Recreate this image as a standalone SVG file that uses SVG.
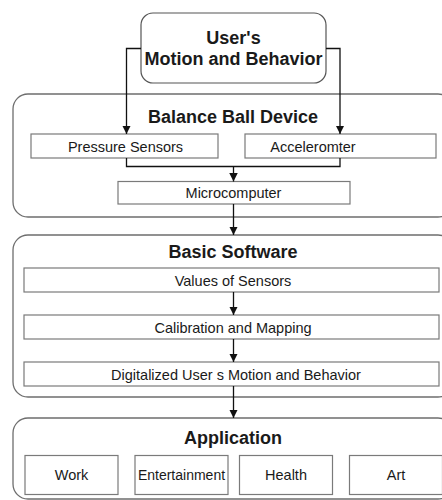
<svg xmlns="http://www.w3.org/2000/svg" width="442" height="500" viewBox="0 0 442 500">
<defs>
<marker id="arr" viewBox="0 0 10 10" refX="10" refY="5" markerWidth="8.5" markerHeight="8.5" markerUnits="userSpaceOnUse" orient="auto">
<path d="M0,0 L10,5 L0,10 Z" fill="#111"/>
</marker>
<style>
.cont{fill:#fff;stroke:#6e6e6e;stroke-width:1.3}
.box{fill:#fff;stroke:#7a7a7a;stroke-width:1.2}
.title{font-family:"Liberation Sans",Arial,sans-serif;font-weight:bold;font-size:18px;fill:#1a1a1a;text-anchor:middle}
.lbl{font-family:"Liberation Sans",Arial,sans-serif;font-size:14.5px;fill:#1a1a1a;text-anchor:middle}
.con{fill:none;stroke:#111;stroke-width:1.3}
</style>
</defs>
<rect width="442" height="500" fill="#fff"/>

<g id="balance-ball-device">
<rect class="cont" x="13" y="94" width="440" height="123" rx="15"/>
<text class="title" x="233" y="123">Balance Ball Device</text>
</g>
<g id="basic-software">
<rect class="cont" x="13" y="235" width="440" height="162" rx="15"/>
<text class="title" x="233" y="258">Basic Software</text>
</g>
<g id="application">
<rect class="cont" x="13" y="418" width="440" height="81" rx="15"/>
<text class="title" x="233" y="443.5">Application</text>
</g>

<g id="user">
<rect class="box" x="141" y="13" width="185" height="70" rx="12" style="stroke:#555"/>
<text class="title" x="233.5" y="44">User's</text>
<text class="title" x="233.5" y="65">Motion and Behavior</text>
</g>

<g id="pressure-sensors">
<rect class="box" x="31" y="134" width="187" height="24"/>
<text class="lbl" x="125.5" y="151.5">Pressure Sensors</text>
</g>
<g id="accelerometer">
<rect class="box" x="245" y="134" width="191" height="24"/>
<text class="lbl" x="313" y="151.5">Acceleromter</text>
</g>
<g id="microcomputer">
<rect class="box" x="118" y="181.5" width="232" height="22.5"/>
<text class="lbl" x="233.5" y="198">Microcomputer</text>
</g>

<g id="values-of-sensors">
<rect class="box" x="24" y="268" width="415" height="24"/>
<text class="lbl" x="233" y="286">Values of Sensors</text>
</g>
<g id="calibration-mapping">
<rect class="box" x="24" y="315" width="415" height="24"/>
<text class="lbl" x="233" y="332.5">Calibration and Mapping</text>
</g>
<g id="digitalized">
<rect class="box" x="24" y="362" width="415" height="24"/>
<text class="lbl" x="236" y="379.5">Digitalized User s Motion and Behavior</text>
</g>

<g id="work">
<rect class="box" x="25" y="455.5" width="93" height="39"/>
<text class="lbl" x="71.5" y="480">Work</text>
</g>
<g id="entertainment">
<rect class="box" x="135" y="455.5" width="93" height="39"/>
<text class="lbl" x="181.5" y="480" style="font-size:14px">Entertainment</text>
</g>
<g id="health">
<rect class="box" x="239.5" y="455.5" width="93" height="39"/>
<text class="lbl" x="286" y="480">Health</text>
</g>
<g id="art">
<rect class="box" x="349.5" y="455.5" width="93" height="39"/>
<text class="lbl" x="396" y="480">Art</text>
</g>

<g id="connectors">
<path class="con" d="M141,48.5 H126.5 V134" marker-end="url(#arr)"/>
<path class="con" d="M326,48.5 H340 V134" marker-end="url(#arr)"/>
<path class="con" d="M126.5,158 V166.5 H340 V158"/>
<path class="con" d="M233.5,166.5 V181.5" marker-end="url(#arr)"/>
<path class="con" d="M233.5,204 V235" marker-end="url(#arr)"/>
<path class="con" d="M233.5,292 V315" marker-end="url(#arr)"/>
<path class="con" d="M233.5,339 V362" marker-end="url(#arr)"/>
<path class="con" d="M233.5,386 V418" marker-end="url(#arr)"/>
</g>
</svg>
